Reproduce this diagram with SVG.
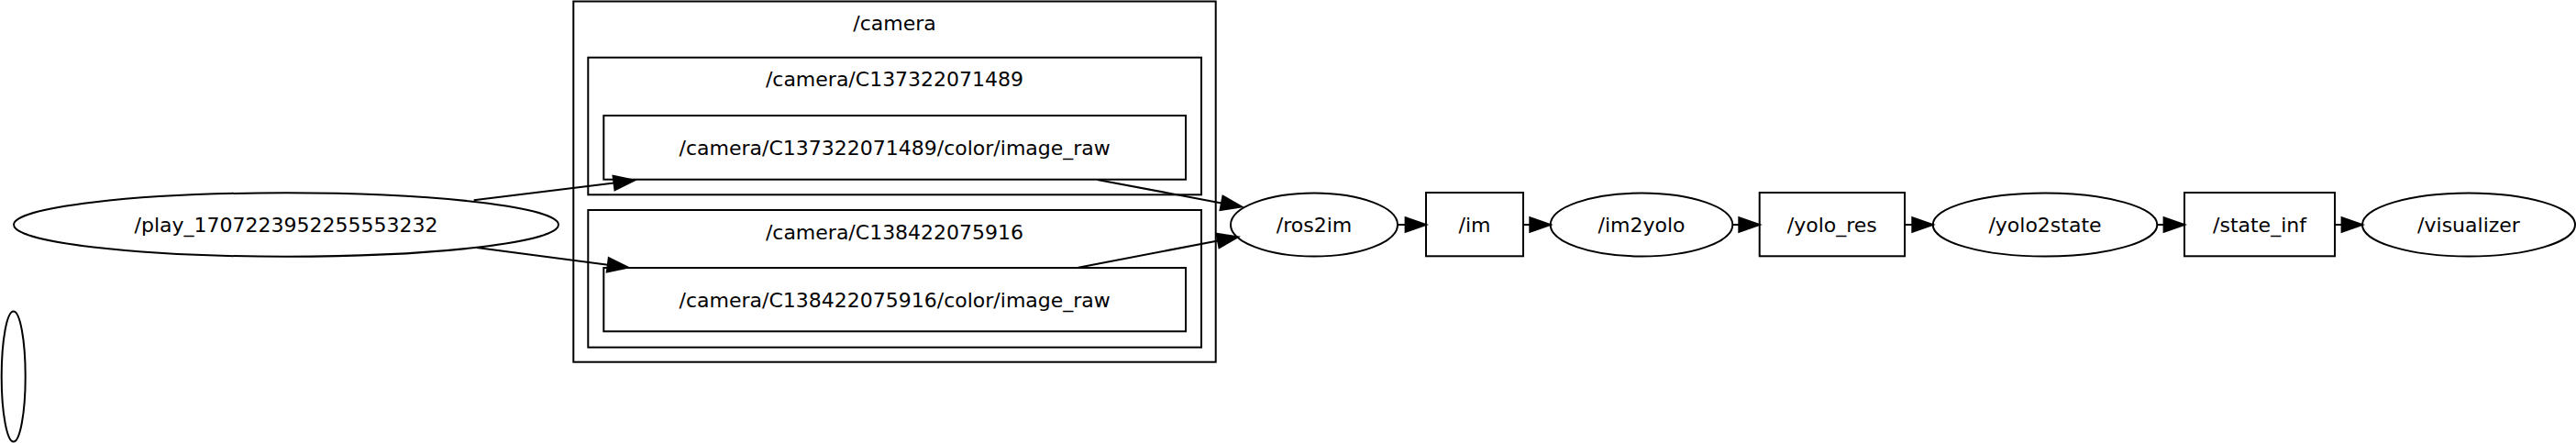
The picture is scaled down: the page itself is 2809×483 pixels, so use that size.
<svg xmlns="http://www.w3.org/2000/svg" width="2809" height="483" viewBox="0 0 2809 483">
<style>
.s{fill:none;stroke:#000;stroke-width:2}
.n{fill:#fff;stroke:#000;stroke-width:2}
.e{fill:none;stroke:#000;stroke-width:2;marker-end:url(#ah)}
text{font-family:"DejaVu Sans",sans-serif;font-size:22px;fill:#000;text-anchor:middle}
</style>
<defs>
<marker id="ah" markerUnits="userSpaceOnUse" markerWidth="26" markerHeight="20" refX="0" refY="8" orient="auto" viewBox="0 0 26 16" overflow="visible">
<path d="M0,0.2 L22.4,8 L0,15.8 Z" fill="#000" stroke="#000" stroke-width="2"/>
</marker>
</defs>
<rect width="2809" height="483" fill="#fff"/>
<g id="cluster_camera">
<rect class="s" x="625.3" y="1.5" width="700.4" height="393.2"/>
<text x="975.5" y="33">/camera</text>
</g>
<g id="cluster_C137322071489">
<rect class="s" x="641.3" y="62.7" width="668.7" height="149.6"/>
<text x="975.5" y="94">/camera/C137322071489</text>
</g>
<g id="cluster_C138422075916">
<rect class="s" x="641.3" y="229" width="668.7" height="149.7"/>
<text x="975.5" y="261">/camera/C138422075916</text>
</g>
<g id="node_image_raw1">
<rect class="n" x="658.3" y="126" width="634.7" height="69.7"/>
<text x="975.7" y="169">/camera/C137322071489/color/image_raw</text>
</g>
<g id="node_image_raw2">
<rect class="n" x="658.3" y="292" width="634.7" height="69.3"/>
<text x="975.7" y="334.5">/camera/C138422075916/color/image_raw</text>
</g>
<g id="node_play">
<ellipse class="n" cx="312" cy="245" rx="297" ry="34.7"/>
<text x="312" y="253">/play_1707223952255553232</text>
</g>
<g id="node_empty">
<ellipse class="n" cx="14.7" cy="410.5" rx="13" ry="71"/>
</g>
<g id="node_ros2im">
<ellipse class="n" cx="1433" cy="245" rx="91" ry="34.5"/>
<text x="1433" y="253">/ros2im</text>
</g>
<g id="node_im">
<rect class="n" x="1555" y="210" width="106" height="69.3"/>
<text x="1608" y="253">/im</text>
</g>
<g id="node_im2yolo">
<ellipse class="n" cx="1790" cy="245" rx="99.3" ry="34.5"/>
<text x="1790" y="253">/im2yolo</text>
</g>
<g id="node_yolo_res">
<rect class="n" x="1918.7" y="210" width="158.3" height="69.3"/>
<text x="1997.8" y="253">/yolo_res</text>
</g>
<g id="node_yolo2state">
<ellipse class="n" cx="2230" cy="245" rx="122.3" ry="34.5"/>
<text x="2230" y="253">/yolo2state</text>
</g>
<g id="node_state_inf">
<rect class="n" x="2382" y="210" width="164" height="69.3"/>
<text x="2464" y="253">/state_inf</text>
</g>
<g id="node_visualizer">
<ellipse class="n" cx="2692" cy="245" rx="116" ry="34.5"/>
<text x="2692" y="253">/visualizer</text>
</g>
<g id="edges">
<path class="e" d="M516.7,218.3 L669.5,199.4"/>
<path class="e" d="M520,270 L662.8,288.8"/>
<path class="e" d="M1196.7,196 L1332,221.4"/>
<path class="e" d="M1175.7,291.7 L1328,262.5"/>
<path class="e" d="M1524,245 L1532.6,245"/>
<path class="e" d="M1661,245 L1668.3,245"/>
<path class="e" d="M1889.3,245 L1896.3,245"/>
<path class="e" d="M2077,245 L2085.3,245"/>
<path class="e" d="M2352.3,245 L2359.6,245"/>
<path class="e" d="M2546,245 L2553.6,245"/>
</g>
</svg>
